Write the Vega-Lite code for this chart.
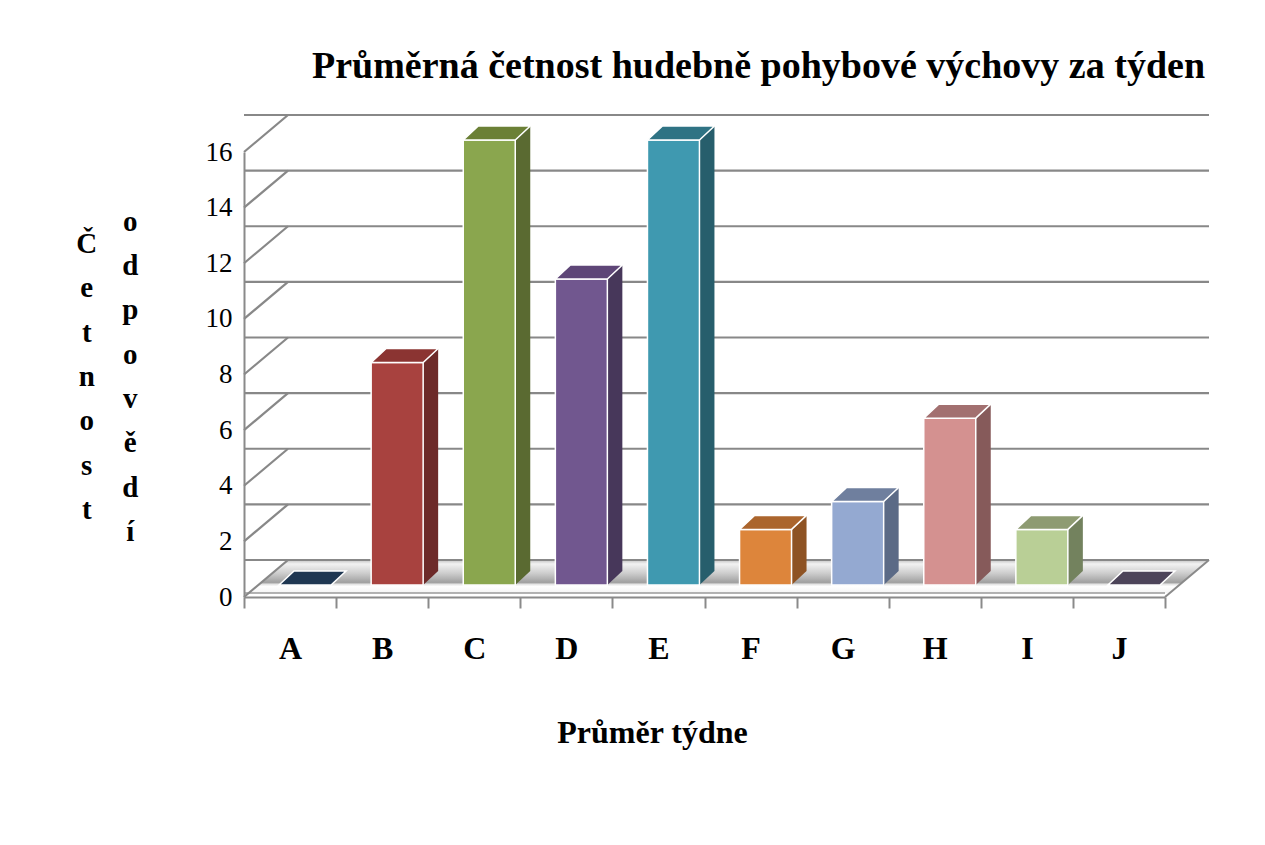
{
  "$schema": "https://vega.github.io/schema/vega-lite/v6.json",
  "width": 921,
  "height": 445,
  "autosize": {"type": "none"},
  "padding": {"left": 244, "top": 152, "right": 100, "bottom": 248},
  "background": "white",
  "config": {"view": {"stroke": null}, "font": "Liberation Serif"},
  "title": {
    "text": "Průměrná četnost hudebně pohybové výchovy za týden",
    "anchor": "start",
    "frame": "group",
    "dx": 68,
    "offset": -5,
    "baseline": "alphabetic",
    "font": "Liberation Serif",
    "fontSize": 38,
    "fontWeight": "bold",
    "color": "black"
  },
  "datasets": {
    "bars": [
      {"cat": "A", "value": 0},
      {"cat": "B", "value": 8},
      {"cat": "C", "value": 16},
      {"cat": "D", "value": 11},
      {"cat": "E", "value": 16},
      {"cat": "F", "value": 2},
      {"cat": "G", "value": 3},
      {"cat": "H", "value": 6},
      {"cat": "I", "value": 2},
      {"cat": "J", "value": 0}
    ],
    "grid": [
      {"v": 0}, {"v": 2}, {"v": 4}, {"v": 6}, {"v": 8}, {"v": 10}, {"v": 12}, {"v": 14}, {"v": 16}
    ],
    "one": [{"k": 1}]
  },
  "layer": [
    {
      "data": {"name": "bars"},
      "mark": {"type": "bar", "opacity": 0},
      "encoding": {
        "x": {
          "field": "cat", "type": "nominal",
          "scale": {"type": "band", "paddingInner": 0, "paddingOuter": 0, "domain": ["A","B","C","D","E","F","G","H","I","J"]},
          "axis": {
            "zindex": 1,
            "domain": true, "domainColor": "#8a8a8a", "domainWidth": 2,
            "ticks": true, "tickBand": "extent", "tickColor": "#8a8a8a", "tickWidth": 2, "tickSize": 11,
            "grid": false,
            "labelAngle": 0, "labelFont": "Liberation Serif", "labelFontWeight": "bold", "labelFontSize": 32, "labelColor": "black", "labelPadding": 25,
            "title": "Průměr týdne", "titleFont": "Liberation Serif", "titleFontSize": 32, "titleFontWeight": "bold", "titleColor": "black",
            "titleX": 408, "titleY": 145, "titleBaseline": "alphabetic", "titleAlign": "center"
          }
        },
        "y": {
          "field": "value", "type": "quantitative",
          "scale": {"domain": [0, 16], "nice": false},
          "axis": {
            "zindex": 1,
            "values": [0, 2, 4, 6, 8, 10, 12, 14, 16],
            "domain": true, "domainColor": "#8a8a8a", "domainWidth": 2,
            "ticks": false, "grid": false,
            "labelFont": "Liberation Serif", "labelFontSize": 27, "labelColor": "black", "labelPadding": 12,
            "title": ["\u200b\u00a0\u00a0\u00a0\u00a0\u00a0\u00a0o", "Č\u00a0\u00a0\u00a0\u00a0\u00a0\u00a0\u200b", "\u200b\u00a0\u00a0\u00a0\u00a0\u00a0\u00a0d", "e\u00a0\u00a0\u00a0\u00a0\u00a0\u00a0\u200b", "\u200b\u00a0\u00a0\u00a0\u00a0\u00a0\u00a0p", "t\u00a0\u00a0\u00a0\u00a0\u00a0\u00a0\u200b", "\u200b\u00a0\u00a0\u00a0\u00a0\u00a0\u00a0o", "n\u00a0\u00a0\u00a0\u00a0\u00a0\u00a0\u200b", "\u200b\u00a0\u00a0\u00a0\u00a0\u00a0\u00a0v", "o\u00a0\u00a0\u00a0\u00a0\u00a0\u00a0\u200b", "\u200b\u00a0\u00a0\u00a0\u00a0\u00a0\u00a0ě", "s\u00a0\u00a0\u00a0\u00a0\u00a0\u00a0\u200b", "\u200b\u00a0\u00a0\u00a0\u00a0\u00a0\u00a0d", "t\u00a0\u00a0\u00a0\u00a0\u00a0\u00a0\u200b", "\u200b\u00a0\u00a0\u00a0\u00a0\u00a0\u00a0í"],
            "titleAngle": 0, "titleFont": "Liberation Serif", "titleFontSize": 29, "titleFontWeight": "bold", "titleColor": "black",
            "titleLineHeight": 22.2, "titleX": -136, "titleY": 78, "titleBaseline": "alphabetic", "titleAlign": "center"
          }
        }
      }
    },
    {
      "data": {"name": "one"},
      "mark": {
        "type": "rect",
        "x2Offset": 44,
        "yOffset": -37,
        "y2Offset": -4,
        "fill": {
          "gradient": "linear", "x1": 0, "y1": 0, "x2": 0, "y2": 1,
          "stops": [
            {"offset": 0, "color": "#c4c4c4"},
            {"offset": 0.12, "color": "#f2f2f2"},
            {"offset": 0.4, "color": "#cdcdcd"},
            {"offset": 0.68, "color": "#a0a0a0"},
            {"offset": 0.74, "color": "#e6e6e6"},
            {"offset": 0.8, "color": "#ffffff"},
            {"offset": 1, "color": "#f4f4f4"}
          ]
        }
      },
      "encoding": {
        "x": {"datum": "A", "bandPosition": 0, "type": "nominal"},
        "x2": {"datum": "J", "bandPosition": 1},
        "y": {"datum": 0, "type": "quantitative"},
        "y2": {"datum": 0}
      }
    },
    {
      "data": {"name": "one"},
      "mark": {"type": "point", "shape": "M0,0L0,-37L44,-37Z", "size": 4, "filled": true, "fill": "white", "opacity": 1, "strokeWidth": 0},
      "encoding": {
        "x": {"datum": "A", "bandPosition": 0, "type": "nominal"},
        "y": {"datum": 0, "type": "quantitative"}
      }
    },
    {
      "data": {"name": "one"},
      "mark": {"type": "point", "shape": "M0,0L44,0L44,-37Z", "size": 4, "filled": true, "fill": "white", "opacity": 1, "strokeWidth": 0},
      "encoding": {
        "x": {"datum": "J", "bandPosition": 1, "type": "nominal"},
        "y": {"datum": 0, "type": "quantitative"}
      }
    },
    {
      "data": {"name": "one"},
      "mark": {"type": "point", "shape": "M0,0L44,-37", "size": 4, "filled": false, "stroke": "#8a8a8a", "strokeWidth": 2, "opacity": 1},
      "encoding": {
        "x": {"datum": "J", "bandPosition": 1, "type": "nominal"},
        "y": {"datum": 0, "type": "quantitative"}
      }
    },
    {
      "data": {"name": "one"},
      "mark": {"type": "rule", "color": "#9a9a9a", "strokeWidth": 1.5, "yOffset": -4},
      "encoding": {
        "y": {"datum": 0, "type": "quantitative"}
      }
    },
    {
      "data": {"name": "grid"},
      "mark": {"type": "rule", "color": "#888888", "strokeWidth": 2.2, "xOffset": 44, "x2Offset": 44, "yOffset": -37},
      "encoding": {
        "y": {"field": "v", "type": "quantitative"}
      }
    },
    {
      "data": {"name": "grid"},
      "mark": {"type": "point", "shape": "M0,0L44,-37", "size": 4, "filled": false, "stroke": "#888888", "strokeWidth": 2.2, "opacity": 1},
      "encoding": {
        "x": {"datum": "A", "bandPosition": 0, "type": "nominal"},
        "y": {"field": "v", "type": "quantitative"}
      }
    },
    {
      "data": {"name": "bars"},
      "transform": [{"filter": "datum.value > 0"}],
      "mark": {"type": "bar", "width": {"band": 0.1629}, "xOffset": 48.5, "yOffset": -26, "y2Offset": -26},
      "encoding": {
        "x": {"field": "cat", "type": "nominal", "scale": {"type": "band"}},
        "y": {"field": "value", "type": "quantitative"},
        "fill": {"field": "cat", "type": "nominal", "legend": null,
          "scale": {"domain": ["A","B","C","D","E","F","G","H","I","J"], "range": ["#1a2f47","#6d2a29","#5a6a31","#47375a","#275e6c","#8e5324","#5b6a86","#865a5a","#73825e","#3c3447"]}}
      }
    },
    {
      "data": {"name": "bars"},
      "transform": [{"filter": "datum.value > 0"}],
      "mark": {"type": "point", "shape": "M0,0L0,-14L15,-14Z", "size": 4, "filled": true, "opacity": 1, "strokeWidth": 0, "xOffset": 41, "yOffset": -12},
      "encoding": {
        "x": {"field": "cat", "type": "nominal", "scale": {"type": "band"}},
        "y": {"datum": 0, "type": "quantitative"},
        "fill": {"field": "cat", "type": "nominal", "legend": null,
          "scale": {"domain": ["A","B","C","D","E","F","G","H","I","J"], "range": ["#1a2f47","#6d2a29","#5a6a31","#47375a","#275e6c","#8e5324","#5b6a86","#865a5a","#73825e","#3c3447"]}}
      }
    },
    {
      "data": {"name": "bars"},
      "transform": [{"filter": "datum.value > 0"}],
      "mark": {"type": "bar", "width": {"band": 0.5646}, "xOffset": 15, "yOffset": -12, "y2Offset": -12, "stroke": "white", "strokeWidth": 1.5},
      "encoding": {
        "x": {"field": "cat", "type": "nominal", "scale": {"type": "band"}},
        "y": {"field": "value", "type": "quantitative"},
        "fill": {"field": "cat", "type": "nominal", "legend": null,
          "scale": {"domain": ["A","B","C","D","E","F","G","H","I","J"], "range": ["#1f3752","#a8423f","#8aa64e","#71578f","#3f99b0","#dd853b","#94a9d1","#d49190","#b9cf96","#4c4459"]}}
      }
    },
    {
      "data": {"name": "bars"},
      "mark": {"type": "point", "shape": "M0,0L52,0L67,-14L15,-14Z", "size": 4, "filled": true, "opacity": 1, "stroke": "white", "strokeWidth": 1.5, "xOffset": -11, "yOffset": -12},
      "encoding": {
        "x": {"field": "cat", "type": "nominal", "scale": {"type": "band"}},
        "y": {"field": "value", "type": "quantitative"},
        "fill": {"field": "cat", "type": "nominal", "legend": null,
          "scale": {"domain": ["A","B","C","D","E","F","G","H","I","J"], "range": ["#1f3752","#8b3432","#6b8036","#5e4677","#2f7384","#ab652d","#6f7f9e","#a27070","#8e9b72","#4c4459"]}}
      }
    }
  ],
  "resolve": {"scale": {"fill": "independent"}}
}
